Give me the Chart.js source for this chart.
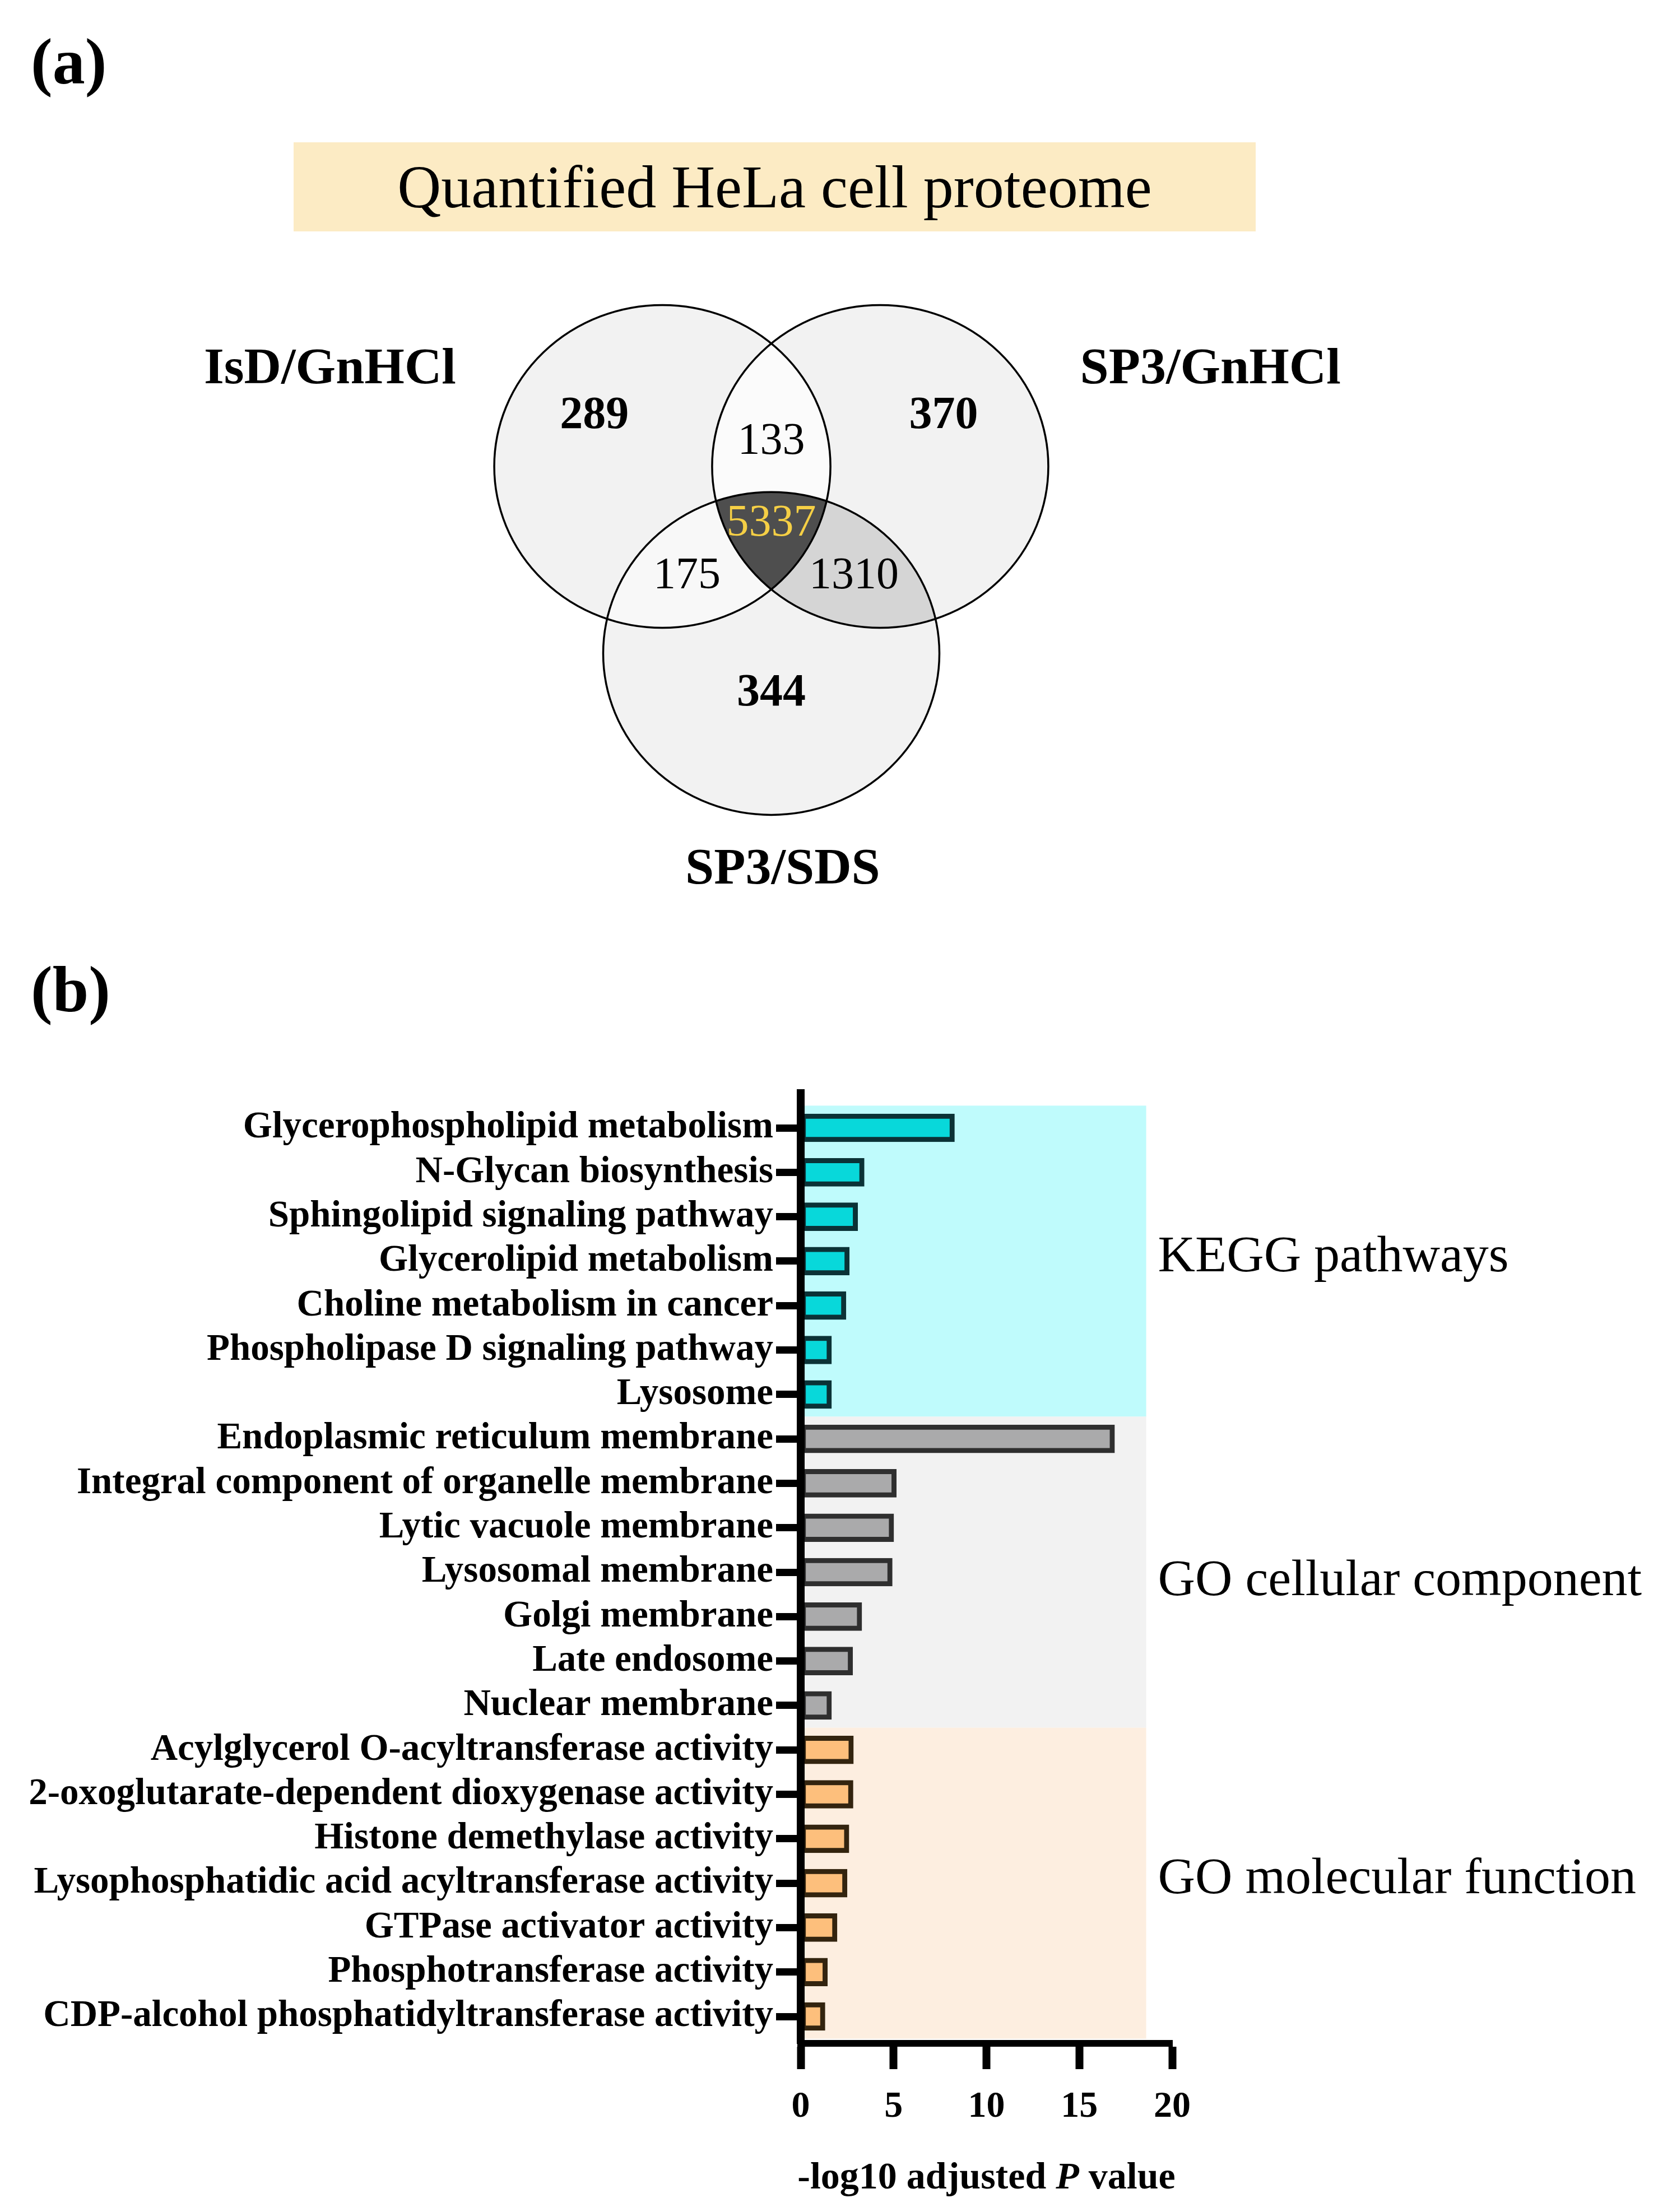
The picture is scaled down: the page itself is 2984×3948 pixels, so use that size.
<!DOCTYPE html>
<html lang="en">
<head>
  <meta charset="UTF-8" />
  <title>HeLa proteome overlap and enrichment</title>
  <script src="https://cdn.jsdelivr.net/npm/chart.js"></script>
  <style>
    html, body { margin: 0; padding: 0; background: #fff; }
    body {
      position: relative; width: 2984px; height: 3948px; overflow: hidden;
      font-family: "Liberation Serif", "DejaVu Serif", serif; color: #000;
    }
    .panel-tag { position: absolute; left: 55px; font-size: 116px; font-weight: bold; line-height: 1; }
    #tagA { top: 52px; }
    #tagB { top: 1708px; }
    .title-box {
      position: absolute; left: 524px; top: 254px; width: 1717px; height: 159px;
      background: #fcebc4; text-align: center; font-size: 108px; line-height: 159px;
    }
    #vennWrap { position: absolute; left: 0; top: 450px; }
    #barWrap { position: absolute; left: 0; top: 1900px; }
  </style>
</head>
<body>
  <!-- panel (a) -->
  <div class="panel-tag" id="tagA">(a)</div>
  <div class="title-box">Quantified HeLa cell proteome</div>
  <div id="vennWrap"><canvas id="venn" width="2984" height="1200"></canvas></div>

  <!-- panel (b) -->
  <div class="panel-tag" id="tagB">(b)</div>
  <div id="barWrap"><canvas id="bars" width="2984" height="2048"></canvas></div>

  <script>
    // ---------- data: (a) Venn ----------
    const setNames = ['IsD/GnHCl', 'SP3/GnHCl', 'SP3/SDS'];
    // regions: only 1, only 2, only 3, 1&2, 1&3, 2&3, all three
    const regionCounts = [289, 370, 344, 133, 175, 1310, 5337];

    // ---------- data: (b) enrichment ----------
    const terms = [
      'Glycerophospholipid metabolism', 'N-Glycan biosynthesis', 'Sphingolipid signaling pathway',
      'Glycerolipid metabolism', 'Choline metabolism in cancer', 'Phospholipase D signaling pathway',
      'Lysosome',
      'Endoplasmic reticulum membrane', 'Integral component of organelle membrane', 'Lytic vacuole membrane',
      'Lysosomal membrane', 'Golgi membrane', 'Late endosome', 'Nuclear membrane',
      'Acylglycerol O-acyltransferase activity', '2-oxoglutarate-dependent dioxygenase activity',
      'Histone demethylase activity', 'Lysophosphatidic acid acyltransferase activity',
      'GTPase activator activity', 'Phosphotransferase activity', 'CDP-alcohol phosphatidyltransferase activity'
    ];
    const logP = [8.28, 3.42, 3.07, 2.62, 2.44, 1.66, 1.66,
                  16.9, 5.15, 5.01, 4.93, 3.29, 2.80, 1.66,
                  2.84, 2.82, 2.60, 2.50, 1.96, 1.44, 1.31];
    const groupNames = ['KEGG pathways', 'GO cellular component', 'GO molecular function'];
    const groupSizes = [7, 7, 7];
    const xTicks = [0, 5, 10, 15, 20];

    // ---------- styling / layout ----------
    const SERIF = '"Liberation Serif", "DejaVu Serif", serif';
    Chart.defaults.font.family = SERIF;
    Chart.defaults.color = '#000';

    // venn geometry, in circle-radius units around the centroid
    const vennCenters = [[-0.648, 0.386], [0.648, 0.386], [0, -0.773]];
    const regionAnchors = [[-1.052, 0.697], [1.025, 0.697], [0, -1.022],
                           [0, 0.537], [-0.502, -0.296], [0.492, -0.296], [0, 0.03]];
    const nameAnchors = [[-2.625, 0.985], [2.612, 0.985], [0.068, -2.116]];
    const pairs = [[0, 1], [0, 2], [1, 2]];
    const singleFill = '#f2f2f2';
    const pairFills = ['#fbfbfb', '#f8f8f8', '#d5d5d5'];
    const tripleFill = '#4e4e4e';

    const groupStyle = [
      { bar: '#08d8da', edge: '#0b3236', band: '#bffbfc' },
      { bar: '#aaaaab', edge: '#2f2f2f', band: '#f2f2f2' },
      { bar: '#fdbf7c', edge: '#33240f', band: '#fdeee0' }
    ];
    const bandEnd = 18.6;
    const groupLabelNudge = [-6, 17, -6];

    // ---------- (a) venn ----------
    const vennPlugin = {
      id: 'venn',
      beforeDatasetsDraw(chart) {
        const ctx = chart.ctx;
        const xs = chart.scales.x, ys = chart.scales.y;
        const rx = Math.abs(xs.getPixelForValue(1) - xs.getPixelForValue(0));
        const ry = Math.abs(ys.getPixelForValue(1) - ys.getPixelForValue(0));
        const pts = chart.getDatasetMeta(0).data;
        const path = i => {
          ctx.beginPath();
          ctx.ellipse(pts[i].x, pts[i].y, rx, ry, 0, 0, Math.PI * 2);
        };
        ctx.save();
        for (let i = 0; i < 3; i++) { path(i); ctx.fillStyle = singleFill; ctx.fill(); }
        pairs.forEach(([a, b], k) => {
          ctx.save(); path(a); ctx.clip(); path(b);
          ctx.fillStyle = pairFills[k]; ctx.fill(); ctx.restore();
        });
        ctx.save(); path(0); ctx.clip(); path(1); ctx.clip(); path(2);
        ctx.fillStyle = tripleFill; ctx.fill(); ctx.restore();
        ctx.lineWidth = 3.5; ctx.strokeStyle = '#000';
        for (let i = 0; i < 3; i++) { path(i); ctx.stroke(); }
        ctx.restore();
      },
      afterDatasetsDraw(chart) {
        const ctx = chart.ctx;
        ctx.save();
        ctx.textAlign = 'center';
        ctx.textBaseline = 'middle';
        chart.getDatasetMeta(1).data.forEach((p, i) => {
          const unique = i < 3;
          ctx.font = (unique ? 'bold 82px ' : '80px ') + SERIF;
          ctx.fillStyle = i === 6 ? '#f5cf45' : '#000';
          ctx.fillText(String(regionCounts[i]), p.x, p.y);
        });
        ctx.font = 'bold 92px ' + SERIF;
        ctx.fillStyle = '#000';
        chart.getDatasetMeta(2).data.forEach((p, i) => ctx.fillText(setNames[i], p.x, p.y));
        ctx.restore();
      }
    };

    const toPts = arr => arr.map(p => ({ x: p[0], y: p[1] }));
    new Chart(document.getElementById('venn'), {
      type: 'scatter',
      data: {
        datasets: [
          { label: 'sets', data: toPts(vennCenters), pointRadius: 0, pointHoverRadius: 0 },
          { label: 'regions', data: toPts(regionAnchors), pointRadius: 0, pointHoverRadius: 0 },
          { label: 'names', data: toPts(nameAnchors), pointRadius: 0, pointHoverRadius: 0 }
        ]
      },
      options: {
        responsive: false, animation: false, events: [],
        layout: { padding: 0 },
        plugins: { legend: { display: false }, tooltip: { enabled: false } },
        scales: {
          x: { type: 'linear', display: false, min: -4.588, max: 5.358 },
          y: { type: 'linear', display: false, min: -2.452, max: 1.714 }
        }
      },
      plugins: [vennPlugin]
    });

    // ---------- (b) bars ----------
    const rowFill = [], rowEdge = [];
    groupSizes.forEach((n, g) => {
      for (let k = 0; k < n; k++) { rowFill.push(groupStyle[g].bar); rowEdge.push(groupStyle[g].edge); }
    });

    const bandPlugin = {
      id: 'bands',
      beforeDatasetsDraw(chart) {
        const { ctx, scales: { x, y } } = chart;
        let start = 0;
        ctx.save();
        groupSizes.forEach((n, g) => {
          const top = y.getPixelForValue(start - 0.5);
          const bottom = y.getPixelForValue(start + n - 0.5);
          const left = x.getPixelForValue(0);
          const right = x.getPixelForValue(bandEnd);
          ctx.fillStyle = groupStyle[g].band;
          ctx.fillRect(left, top, right - left, bottom - top);
          start += n;
        });
        ctx.restore();
      },
      afterDraw(chart) {
        const { ctx, scales: { x, y } } = chart;
        ctx.save();
        // group labels to the right of the bands
        ctx.font = '92px ' + SERIF;
        ctx.textAlign = 'left';
        ctx.textBaseline = 'middle';
        ctx.fillStyle = '#000';
        let start = 0;
        groupSizes.forEach((n, g) => {
          const mid = (y.getPixelForValue(start - 0.5) + y.getPixelForValue(start + n - 0.5)) / 2;
          ctx.fillText(groupNames[g], x.getPixelForValue(bandEnd) + 21, mid + groupLabelNudge[g]);
          start += n;
        });
        // axis title with italic P
        const parts = [['-log10 adjusted ', 'bold '], ['P', 'italic bold '], [' value', 'bold ']];
        let total = 0;
        parts.forEach(p => { ctx.font = p[1] + '68px ' + SERIF; total += ctx.measureText(p[0]).width; });
        let cx = (x.left + x.right) / 2 - total / 2;
        const ty = x.bottom - 60;
        parts.forEach(p => {
          ctx.font = p[1] + '68px ' + SERIF;
          ctx.fillText(p[0], cx, ty);
          cx += ctx.measureText(p[0]).width;
        });
        ctx.restore();
      }
    };

    new Chart(document.getElementById('bars'), {
      type: 'bar',
      data: {
        datasets: [{
          data: logP.map((v, i) => ({ x: v, y: i })),
          backgroundColor: rowFill,
          borderColor: rowEdge,
          borderWidth: 9,
          borderSkipped: false,
          barThickness: 50
        }]
      },
      options: {
        indexAxis: 'y',
        responsive: false, animation: false, events: [],
        layout: { padding: { top: 51, right: 892, left: 0, bottom: 0 } },
        plugins: { legend: { display: false }, tooltip: { enabled: false } },
        scales: {
          x: {
            type: 'linear', position: 'bottom', min: 0, max: 20,
            afterBuildTicks: s => { s.ticks = xTicks.map(v => ({ value: v })); },
            afterFit: s => { s.height = 301; },
            grid: { drawOnChartArea: false, drawTicks: true, tickLength: 46, tickWidth: 14, tickColor: '#000' },
            border: { display: true, color: '#000', width: 12, z: 1 },
            ticks: { color: '#000', padding: 28, maxRotation: 0, font: { size: 66, weight: 'bold' } }
          },
          y: {
            type: 'linear', reverse: true, offset: false, min: -0.782, max: 20.605,
            afterBuildTicks: s => { s.ticks = terms.map((_, i) => ({ value: i })); },
            afterFit: s => { s.width = 1429; },
            grid: { offset: false, drawOnChartArea: false, drawTicks: true, tickLength: 44, tickWidth: 13, tickColor: '#000' },
            border: { display: true, color: '#000', width: 14, z: 1 },
            ticks: {
              autoSkip: false, padding: 5, color: '#000',
              font: { size: 67, weight: 'bold' },
              callback: v => terms[v]
            }
          }
        }
      },
      plugins: [bandPlugin]
    });
  </script>
</body>
</html>
